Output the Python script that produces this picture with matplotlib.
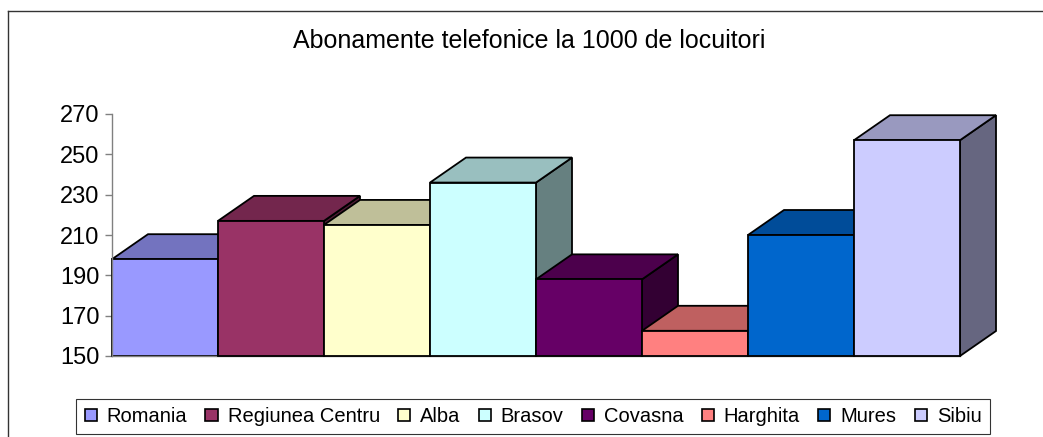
import matplotlib
matplotlib.use("Agg")
import matplotlib.pyplot as plt
from matplotlib.patches import Polygon, Patch
from matplotlib.lines import Line2D

plt.rcParams['font.family'] = ['Liberation Sans', 'DejaVu Sans']

# data
regions = ["Romania", "Regiunea Centru", "Alba", "Brasov", "Covasna", "Harghita", "Mures", "Sibiu"]
values = [198, 217, 215, 236, 188, 162.5, 210, 257]
front_colors = ["#9999FF", "#993366", "#FFFFCC", "#CCFFFF", "#660066", "#FF8080", "#0066CC", "#CCCCFF"]
top_colors = ["#7373BF", "#73264D", "#BFBF99", "#99BFBF", "#4C004C", "#BF6060", "#004C99", "#9999BF"]
side_colors = ["#4D4D80", "#4D1A33", "#808066", "#668080", "#330033", "#804040", "#003366", "#666680"]
yticks = [150, 170, 190, 210, 230, 250, 270]

W, H = 1043, 437
fig = plt.figure(figsize=(W / 100, H / 100), dpi=100)

# plot area in pixels: x 112..960, y 114..356
ax = fig.add_axes([112 / W, 1 - 356 / H, (960 - 112) / W, (356 - 114) / H])
ax.set_xlim(0, len(regions))
ax.set_ylim(150, 270)

# depth offset (pixels -> data units)
dx = 36 / ((960 - 112) / len(regions))
dy = 25 / ((356 - 114) / 120)
base = 150
ec = "black"
lw = 1.3

for i, (v, fc, tc, sc) in enumerate(zip(values, front_colors, top_colors, side_colors)):
    side = [(i + 1, base), (i + 1, v), (i + 1 + dx, v + dy), (i + 1 + dx, base + dy)]
    top = [(i, v), (i + 1, v), (i + 1 + dx, v + dy), (i + dx, v + dy)]
    ax.add_patch(Polygon(side, closed=True, facecolor=sc, edgecolor=ec, lw=lw, clip_on=False, zorder=2 + i))
    ax.add_patch(Polygon(top, closed=True, facecolor=tc, edgecolor=ec, lw=lw, clip_on=False, zorder=2 + i))
    ax.bar(i, v - base, bottom=base, width=1, align='edge', color=fc, edgecolor=ec, lw=lw,
           clip_on=False, zorder=2 + i)

ax.set_yticks(yticks)
ax.set_xticks([])
ax.tick_params(axis='y', direction='out', length=5, width=1, color='#808080', labelsize=17, pad=4)
for s in ['top', 'right']:
    ax.spines[s].set_visible(False)
for s in ['left', 'bottom']:
    ax.spines[s].set_color('#808080')
    ax.spines[s].set_linewidth(1)
ax.patch.set_visible(False)

fig.text(529 / W, 1 - 41 / H, "Abonamente telefonice la 1000 de locuitori",
         ha='center', va='center', fontsize=18)

handles = [Patch(facecolor=c, edgecolor='black', lw=1.2) for c in front_colors]
leg = fig.legend(handles, regions, loc='center', bbox_to_anchor=(533 / W, 1 - 416.5 / H),
                 ncol=len(regions), fontsize=14.5, frameon=True, fancybox=False,
                 handlelength=0.6, handleheight=0.6, handletextpad=0.5, columnspacing=0.9,
                 borderpad=0.42, borderaxespad=0)
leg.get_frame().set_edgecolor('black')
leg.get_frame().set_linewidth(0.8)

# outer chart border (left and top visible)
fig.add_artist(Line2D([8 / W, 8 / W], [0, 1 - 11 / H], color='#333333', lw=1, transform=fig.transFigure))
fig.add_artist(Line2D([8 / W, 1], [1 - 11 / H, 1 - 11 / H], color='#333333', lw=1, transform=fig.transFigure))

fig.savefig("out.png", dpi=100)
